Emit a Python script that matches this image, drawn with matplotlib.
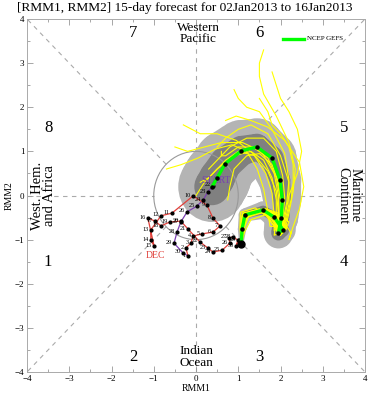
import numpy as np
import matplotlib
matplotlib.use("Agg")
import matplotlib.pyplot as plt
from matplotlib.patches import Polygon, Circle
from matplotlib.ticker import MultipleLocator

plt.rcParams['font.family'] = ['Liberation Serif', 'DejaVu Serif']

# observed RMM (late Nov in purple, Dec in red)
nov_days = [22, 23, 24, 25, 26, 27, 28, 29, 30]
nov_x = [0.40, 0.28, 0.17, 0.02, -0.21, -0.36, -0.45, -0.52, -0.31]
nov_y = [0.22, 0.08, -0.10, -0.24, -0.37, -0.60, -0.83, -1.08, -1.30]

dec_days = list(range(1, 32))
dec_x = [-0.19, -0.24, -0.12, -0.07, 0.14, 0.40, 0.57, 0.40, 0.26, -0.07,
         -0.57, -0.83, -1.07, -1.07, -0.99, -1.14, -0.97, -0.83, -0.62, -0.36,
         -0.19, 0.09, 0.28, 0.40, 0.62, 0.80, 0.78, 0.88, 0.99, 0.95, 1.02]
dec_y = [-1.37, -1.19, -1.08, -0.92, -0.87, -0.83, -0.69, -0.51, -0.22, -0.01,
         -0.40, -0.46, -0.78, -1.01, -1.15, -0.51, -0.58, -0.69, -0.60, -0.58,
         -0.76, -1.05, -1.19, -1.28, -1.24, -1.08, -0.96, -0.94, -1.01, -1.15, -1.00]

# GEFS ensemble mean, day 0..15
mean_x = [1.07, 1.09, 1.16, 1.59, 1.85, 2.06, 1.95, 2.02, 2.04, 1.99, 1.80, 1.44, 1.07, 0.69, 0.50, 0.38]
mean_y = [-1.10, -0.76, -0.44, -0.33, -0.49, -0.78, -0.85, -0.50, -0.10, 0.35, 0.85, 1.10, 1.01, 0.72, 0.40, 0.20]

# ensemble spread radii (outer / inner shading)
spread_90 = [0.05, 0.10, 0.15, 0.20, 0.25, 0.30, 0.35, 0.40, 0.45, 0.50, 0.58, 0.65, 0.70, 0.75, 0.80, 0.80]
spread_50 = [0.03, 0.05, 0.08, 0.10, 0.12, 0.15, 0.17, 0.19, 0.21, 0.24, 0.27, 0.30, 0.34, 0.38, 0.42, 0.42]

# individual members
members_x = [
    [1.07, 1.12, 1.25, 1.60, 1.90, 2.10, 2.00, 2.10, 2.20, 2.20, 2.00, 1.70, 1.30, 1.00, 0.70, 0.50],
    [1.07, 1.05, 1.10, 1.50, 1.80, 2.00, 1.85, 1.90, 1.90, 1.80, 1.60, 1.30, 0.90, 0.50, 0.30, 0.10],
    [1.07, 1.10, 1.20, 1.65, 1.95, 2.20, 2.10, 2.20, 2.30, 2.35, 2.20, 1.90, 1.60, 1.50, 1.50, 1.60],
    [1.07, 1.08, 1.15, 1.55, 1.80, 2.00, 1.90, 1.95, 1.95, 1.85, 1.55, 1.10, 0.60, 0.20, -0.20, -0.50],
    [1.07, 1.10, 1.20, 1.70, 2.00, 2.15, 2.05, 2.10, 2.20, 2.40, 2.50, 2.40, 2.20, 2.00, 1.90, 1.80],
    [1.07, 1.06, 1.10, 1.50, 1.75, 1.95, 1.90, 1.95, 1.90, 1.70, 1.40, 1.00, 0.70, 0.40, 0.20, 0.00],
    [1.07, 1.10, 1.18, 1.60, 1.90, 2.10, 2.00, 2.05, 2.15, 2.20, 2.10, 1.80, 1.50, 1.20, 1.00, 0.90],
    [1.07, 1.07, 1.14, 1.55, 1.85, 2.05, 2.00, 2.00, 2.00, 1.95, 1.80, 1.50, 1.20, 0.90, 0.80, 0.75],
    [1.07, 1.12, 1.20, 1.62, 1.88, 2.12, 2.05, 2.15, 2.25, 2.30, 2.30, 2.20, 2.00, 1.80, 1.70, 1.50],
    [1.07, 1.05, 1.10, 1.45, 1.70, 1.90, 1.85, 1.85, 1.80, 1.65, 1.35, 0.95, 0.50, 0.10, -0.10, -0.30],
    [1.07, 1.10, 1.22, 1.65, 1.92, 2.10, 2.00, 2.05, 2.10, 2.05, 1.90, 1.60, 1.20, 0.80, 0.50, 0.30],
    [1.07, 1.09, 1.17, 1.58, 1.83, 2.02, 1.92, 1.98, 2.00, 1.90, 1.70, 1.35, 1.00, 0.70, 0.60, 0.60],
    [1.07, 1.15, 1.30, 1.75, 2.05, 2.25, 2.20, 2.30, 2.45, 2.55, 2.45, 2.10, 1.70, 1.30, 0.95, 0.70],
    [1.07, 1.04, 1.05, 1.40, 1.65, 1.85, 1.75, 1.70, 1.60, 1.45, 1.20, 0.85, 0.45, 0.05, -0.35, -0.70],
]
members_y = [
    [-1.10, -0.80, -0.45, -0.30, -0.45, -0.70, -0.90, -0.60, -0.20, 0.30, 0.90, 1.40, 1.60, 1.50, 1.30, 1.10],
    [-1.10, -0.70, -0.40, -0.35, -0.55, -0.85, -0.90, -0.55, -0.10, 0.40, 0.80, 1.00, 0.90, 0.60, 0.40, 0.30],
    [-1.10, -0.75, -0.50, -0.30, -0.40, -0.60, -0.80, -0.40, 0.10, 0.60, 1.20, 1.80, 2.30, 2.70, 3.00, 3.30],
    [-1.10, -0.78, -0.48, -0.38, -0.50, -0.80, -0.80, -0.45, 0.00, 0.50, 1.00, 1.20, 1.20, 1.10, 1.00, 1.10],
    [-1.10, -0.80, -0.50, -0.35, -0.45, -0.75, -0.85, -0.50, 0.00, 0.50, 1.00, 1.50, 1.90, 2.20, 2.50, 2.80],
    [-1.10, -0.75, -0.42, -0.30, -0.50, -0.75, -0.75, -0.40, 0.10, 0.55, 0.90, 1.00, 0.80, 0.50, 0.30, 0.00],
    [-1.10, -0.77, -0.44, -0.30, -0.47, -0.80, -0.90, -0.60, -0.15, 0.35, 0.95, 1.50, 1.90, 2.00, 2.20, 2.40],
    [-1.10, -0.76, -0.43, -0.33, -0.52, -0.82, -0.90, -0.55, -0.10, 0.30, 0.70, 0.95, 0.90, 0.60, 0.20, -0.10],
    [-1.10, -0.80, -0.50, -0.30, -0.40, -0.70, -0.80, -0.50, -0.10, 0.30, 0.70, 1.10, 1.40, 1.60, 1.90, 2.20],
    [-1.10, -0.74, -0.40, -0.32, -0.48, -0.76, -0.80, -0.45, 0.05, 0.50, 0.95, 1.25, 1.40, 1.40, 1.50, 1.60],
    [-1.10, -0.78, -0.46, -0.34, -0.46, -0.74, -0.86, -0.52, -0.05, 0.45, 1.00, 1.30, 1.30, 1.10, 0.80, 0.60],
    [-1.10, -0.76, -0.45, -0.34, -0.50, -0.79, -0.86, -0.50, -0.08, 0.40, 0.85, 1.10, 1.10, 0.90, 0.90, 1.00],
    [-1.10, -0.82, -0.55, -0.40, -0.55, -0.85, -1.00, -0.70, -0.30, 0.20, 0.75, 1.25, 1.55, 1.70, 1.80, 1.70],
    [-1.10, -0.72, -0.38, -0.28, -0.45, -0.70, -0.70, -0.35, 0.15, 0.60, 1.00, 1.15, 1.05, 0.85, 0.70, 0.60],
]

phase_labels = ['1', '2', '3', '4', '5', '6', '7', '8']
phase_pos = [(-3.5, -1.51), (-1.49, -3.66), (1.51, -3.66), (3.5, -1.51),
             (3.5, 1.53), (1.51, 3.68), (-1.49, 3.68), (-3.5, 1.53)]


def shade_band(ax, xs, ys, radii, color, z):
    # union of circles and trapezoids along the mean track
    for i in range(len(xs)):
        ax.add_patch(Circle((xs[i], ys[i]), radii[i], fc=color, ec='none', zorder=z))
    for i in range(len(xs) - 1):
        dx, dy = xs[i + 1] - xs[i], ys[i + 1] - ys[i]
        L = np.hypot(dx, dy)
        nx, ny = -dy / L, dx / L
        pts = [(xs[i] + nx * radii[i], ys[i] + ny * radii[i]),
               (xs[i + 1] + nx * radii[i + 1], ys[i + 1] + ny * radii[i + 1]),
               (xs[i + 1] - nx * radii[i + 1], ys[i + 1] - ny * radii[i + 1]),
               (xs[i] - nx * radii[i], ys[i] - ny * radii[i])]
        ax.add_patch(Polygon(pts, closed=True, fc=color, ec='none', zorder=z))


fig = plt.figure(figsize=(3.69, 4.0), dpi=100)
ax = fig.add_axes([0.0732, 0.07, 0.916, 0.8825])
ax.set_xlim(-4, 4)
ax.set_ylim(-4, 4)

# guide lines outside the unit circle
gl = dict(color='#aaaaaa', lw=0.8, ls=(0, (4, 4)), zorder=0.5)
ax.plot([1, 4], [0, 0], **gl)
ax.plot([-4, -1], [0, 0], **gl)
ax.plot([0, 0], [1, 4], **gl)
ax.plot([0, 0], [-4, -1], **gl)
r = np.sqrt(0.5)
ax.plot([r, 4], [r, 4], **gl)
ax.plot([-r, -4], [-r, -4], **gl)
ax.plot([r, 4], [-r, -4], **gl)
ax.plot([-r, -4], [r, 4], **gl)

shade_band(ax, mean_x, mean_y, spread_90, '#b4b4b4', 1)
shade_band(ax, mean_x, mean_y, spread_50, '#808080', 1.5)

ax.add_patch(Circle((0, 0), 1, fc='none', ec='#999999', lw=0.8, zorder=2))

for mx, my in zip(members_x, members_y):
    ax.plot(mx, my, color='#ffff00', lw=0.8, zorder=3)

# observed track
ax.plot(nov_x + [dec_x[0]], nov_y + [dec_y[0]], color='#7a3fb0', lw=0.9, zorder=4)
ax.plot(dec_x + [mean_x[0]], dec_y + [mean_y[0]], color='#e0403a', lw=0.9, zorder=4)
ax.plot(nov_x + dec_x, nov_y + dec_y, 'o', color='k', ms=2, zorder=5)
for d, x, y in zip(nov_days + dec_days, nov_x + dec_x, nov_y + dec_y):
    ax.text(x - 0.05, y + 0.02, str(d), fontsize=4.5, ha='right', va='center', zorder=6)
ax.text(-0.97, -1.37, 'DEC', color='#e0403a', fontsize=7, ha='center', va='center', zorder=6)
ax.text(0.48, 0.33, 'START', color='#7a3fb0', fontsize=7, ha='center', va='center', zorder=6)

# ensemble mean forecast
ax.plot(mean_x, mean_y, color='#00ff00', lw=2.4, zorder=7)
ax.plot(mean_x, mean_y, 'o', color='k', ms=2.2, zorder=8)
ax.plot(mean_x[0], mean_y[0], 'o', color='k', ms=5, zorder=8)

# phase / region labels
for lab, (px, py) in zip(phase_labels, phase_pos):
    ax.text(px, py, lab, fontsize=12, ha='center', va='center')
ax.text(0.05, 3.68, 'Western\nPacific', fontsize=9.5, ha='center', va='center', linespacing=0.9)
ax.text(0.0, -3.66, 'Indian\nOcean', fontsize=9.5, ha='center', va='center', linespacing=0.9)
ax.text(-3.6, 0.0, 'West. Hem.\nand Africa', fontsize=10.5, ha='center', va='center',
        rotation=90, linespacing=0.9)
ax.text(3.62, 0.0, 'Maritime\nContinent', fontsize=10.5, ha='center', va='center',
        rotation=270, linespacing=0.9)

# legend
ax.plot([2.05, 2.55], [3.55, 3.55], color='#00ff00', lw=2.4)
ax.text(2.63, 3.55, 'NCEP GEFS', fontsize=5, ha='left', va='center')

fig.suptitle('[RMM1, RMM2] 15-day forecast for 02Jan2013 to 16Jan2013', fontsize=9.6,
             x=0.5, y=0.995, va='top')
ax.set_xlabel('RMM1', fontsize=7, labelpad=1)
ax.set_ylabel('RMM2', fontsize=7, labelpad=1)

ax.xaxis.set_major_locator(MultipleLocator(1))
ax.yaxis.set_major_locator(MultipleLocator(1))
ax.xaxis.set_minor_locator(MultipleLocator(0.5))
ax.yaxis.set_minor_locator(MultipleLocator(0.5))
ax.tick_params(which='both', direction='in', top=True, right=True, color='#999999',
               labelsize=6.5, pad=2)
ax.tick_params(which='major', length=4, width=0.6)
ax.tick_params(which='minor', length=2.5, width=0.6)
for s in ax.spines.values():
    s.set_color('#aaaaaa')
    s.set_linewidth(0.7)

fig.savefig('out.png', dpi=100)
